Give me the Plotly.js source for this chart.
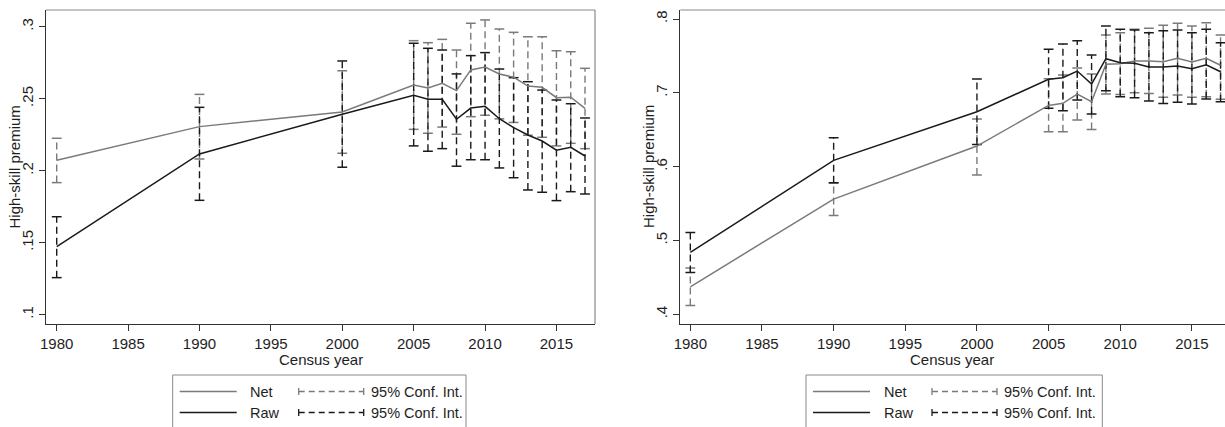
<!DOCTYPE html>
<html>
<head>
<meta charset="utf-8">
<script src="https://cdn.plot.ly/plotly-3.0.1.min.js"></script>
<style>html,body{margin:0;padding:0;background:#fff;}#chart{width:1225px;height:427px;}</style>
</head>
<body>
<div id="chart"></div>
<script>
// ---- Data ----
const years = [1980,1990,2000,2005,2006,2007,2008,2009,2010,2011,2012,2013,2014,2015,2016,2017];

// Left panel
const netLeft    = [0.2072,0.2306,0.2408,0.2595,0.2574,0.2607,0.2556,0.2700,0.2720,0.2672,0.2649,0.2588,0.2579,0.2507,0.2510,0.2433];
const netLeftHi  = [0.2225,0.2530,0.2694,0.2903,0.2889,0.2912,0.2838,0.3024,0.3047,0.2984,0.2961,0.2930,0.2930,0.2833,0.2826,0.2711];
const netLeftLo  = [0.1917,0.2081,0.2121,0.2287,0.2260,0.2303,0.2253,0.2375,0.2385,0.2360,0.2335,0.2246,0.2232,0.2172,0.2190,0.2153];
const rawLeft    = [0.1472,0.2116,0.2392,0.2524,0.2496,0.2496,0.2357,0.2435,0.2447,0.2361,0.2299,0.2248,0.2206,0.2142,0.2162,0.2102];
const rawLeftHi  = [0.1680,0.2440,0.2762,0.2885,0.2850,0.2838,0.2672,0.2799,0.2820,0.2706,0.2646,0.2618,0.2560,0.2491,0.2465,0.2366];
const rawLeftLo  = [0.1257,0.1794,0.2024,0.2172,0.2135,0.2153,0.2031,0.2076,0.2076,0.2019,0.1951,0.1866,0.1850,0.1792,0.1854,0.1838];

// Right panel
const netRight   = [0.4373,0.5561,0.6279,0.6830,0.6858,0.6984,0.6880,0.7386,0.7395,0.7431,0.7431,0.7420,0.7467,0.7417,0.7467,0.7373];
const netRightHi = [0.4626,0.5780,0.6645,0.7190,0.7243,0.7337,0.7255,0.7783,0.7814,0.7860,0.7874,0.7914,0.7941,0.7905,0.7950,0.7783];
const netRightLo = [0.4120,0.5340,0.5886,0.6473,0.6473,0.6631,0.6505,0.6984,0.6976,0.7000,0.6990,0.6940,0.6970,0.6940,0.6947,0.6912];
const rawRight   = [0.4839,0.6085,0.6744,0.7183,0.7205,0.7295,0.7119,0.7462,0.7408,0.7400,0.7350,0.7350,0.7363,0.7327,0.7381,0.7286];
const rawRightHi = [0.5110,0.6392,0.7187,0.7590,0.7661,0.7706,0.7512,0.7905,0.7860,0.7850,0.7814,0.7842,0.7850,0.7814,0.7860,0.7680];
const rawRightLo = [0.4568,0.5782,0.6300,0.6790,0.6758,0.6902,0.6713,0.7028,0.6947,0.6935,0.6889,0.6857,0.6871,0.6848,0.6916,0.6880];

const xTicks = [1980,1985,1990,1995,2000,2005,2010,2015];
const yTicksLeft = [0.1,0.15,0.2,0.25,0.3];
const yTickTextLeft = ['.1','.15','.2','.25','.3'];
const yTicksRight = [0.4,0.5,0.6,0.7,0.8];
const yTickTextRight = ['.4','.5','.6','.7','.8'];
const seriesNames = ['Net','Raw'];
const ciLabel = '95% Conf. Int.';
const xTitle = 'Census year';
const yTitle = 'High-skill premium';

// ---- Styling ----
const W = 1225, H = 427;
const NET_C = '#7a7a7a', RAW_C = '#1a1a1a', TXT = '#1e1e1e', FRAME = '#8a8a8a', AX = '#333333';
const FONT = 'Liberation Sans, Arial, sans-serif';
const px = x => x / W, py = y => 1 - y / H;

function ciTrace(xs, lo, hi, color, xa, ya) {
  const x = [], y = [];
  xs.forEach((v, i) => { x.push(v, v, null); y.push(lo[i], hi[i], null); });
  return {x, y, mode: 'lines', line: {color, width: 1.4, dash: '7px,4px'}, xaxis: xa, yaxis: ya, hoverinfo: 'skip', showlegend: false};
}
function capTrace(xs, lo, hi, color, xa, ya) {
  return {x: xs.concat(xs), y: lo.concat(hi), mode: 'markers',
    marker: {symbol: 'line-ew', size: 7, color, line: {color, width: 1.5}},
    xaxis: xa, yaxis: ya, hoverinfo: 'skip', showlegend: false};
}
function lineTrace(xs, ys, color, name, xa, ya) {
  return {x: xs, y: ys, mode: 'lines', name, line: {color, width: 1.5}, xaxis: xa, yaxis: ya, showlegend: false};
}

const data = [
  ciTrace(years, netLeftLo, netLeftHi, NET_C, 'x', 'y'),
  capTrace(years, netLeftLo, netLeftHi, NET_C, 'x', 'y'),
  ciTrace(years, rawLeftLo, rawLeftHi, RAW_C, 'x', 'y'),
  capTrace(years, rawLeftLo, rawLeftHi, RAW_C, 'x', 'y'),
  lineTrace(years, netLeft, NET_C, seriesNames[0], 'x', 'y'),
  lineTrace(years, rawLeft, RAW_C, seriesNames[1], 'x', 'y'),
  ciTrace(years, netRightLo, netRightHi, NET_C, 'x2', 'y2'),
  capTrace(years, netRightLo, netRightHi, NET_C, 'x2', 'y2'),
  ciTrace(years, rawRightLo, rawRightHi, RAW_C, 'x2', 'y2'),
  capTrace(years, rawRightLo, rawRightHi, RAW_C, 'x2', 'y2'),
  lineTrace(years, netRight, NET_C, seriesNames[0], 'x2', 'y2'),
  lineTrace(years, rawRight, RAW_C, seriesNames[1], 'x2', 'y2')
];

const yDom = [py(324), py(10)];
const xAxisBase = {
  tickvals: xTicks, ticks: 'outside', ticklen: 6, tickwidth: 1, tickcolor: AX,
  showline: true, linecolor: AX, linewidth: 1, showgrid: false, zeroline: false,
  tickfont: {family: FONT, size: 15, color: TXT}, anchor: 'free'
};
const yAxisBase = {
  ticks: 'outside', ticklen: 6, tickwidth: 1, tickcolor: AX, tickangle: -90,
  showline: true, linecolor: AX, linewidth: 1, showgrid: false, zeroline: false,
  tickfont: {family: FONT, size: 15, color: TXT}, domain: yDom
};

const layout = {
  width: W, height: H, margin: {l: 0, r: 0, t: 0, b: 0},
  paper_bgcolor: '#fff', plot_bgcolor: '#fff', showlegend: false,
  font: {family: FONT, color: TXT},
  xaxis: Object.assign({}, xAxisBase, {domain: [px(46), px(595)], range: [1979.25, 2017.7], anchor: 'y'}),
  yaxis: Object.assign({}, yAxisBase, {range: [0.0935, 0.3116], tickvals: yTicksLeft, ticktext: yTickTextLeft, anchor: 'x'}),
  xaxis2: Object.assign({}, xAxisBase, {domain: [px(680.3), 1], range: [1979.3, 2017.31], anchor: 'y2'}),
  yaxis2: Object.assign({}, yAxisBase, {range: [0.3869, 0.8122], tickvals: yTicksRight, ticktext: yTickTextRight, anchor: 'x2'}),
  shapes: [], annotations: []
};

// frame lines (top/right)
const sh = layout.shapes, an = layout.annotations;
function seg(x0, y0, x1, y1, color, width, dash) {
  sh.push({type: 'line', xref: 'paper', yref: 'paper', x0: px(x0), y0: py(y0), x1: px(x1), y1: py(y1),
    line: {color, width, dash: dash || 'solid'}, layer: 'above'});
}
seg(46, 10, 595, 10, FRAME, 1.2);
seg(595, 10, 595, 324, FRAME, 1.2);
seg(680.3, 10, 1225, 10, FRAME, 1.2);

// axis titles
function txt(x, y, text, opts) {
  an.push(Object.assign({xref: 'paper', yref: 'paper', x: px(x), y: py(y), text, showarrow: false,
    font: {family: FONT, size: 15, color: TXT}, xanchor: 'center', yanchor: 'middle'}, opts || {}));
}
txt(321, 359, xTitle);
txt(952, 359, xTitle);
txt(13.5, 167, yTitle, {textangle: -90});
txt(648, 167, yTitle, {textangle: -90});

// legends
function legend(bx0, bx1) {
  const off = bx0;
  sh.push({type: 'rect', xref: 'paper', yref: 'paper', x0: px(bx0), x1: px(bx1), y0: py(375), y1: py(440),
    line: {color: FRAME, width: 1}, fillcolor: 'rgba(0,0,0,0)'});
  const rows = [{y: 391.5, c: NET_C, name: seriesNames[0]}, {y: 412.5, c: RAW_C, name: seriesNames[1]}];
  rows.forEach(r => {
    seg(off + 7, r.y, off + 64, r.y, r.c, 1.5);
    txt(off + 75.5, r.y, r.name, {xanchor: 'left', font: {family: FONT, size: 14.5, color: TXT}});
    seg(off + 126, r.y, off + 191, r.y, r.c, 1.3, '6px,4px');
    seg(off + 126, r.y - 3.5, off + 126, r.y + 3.5, r.c, 1.3);
    seg(off + 191, r.y - 3.5, off + 191, r.y + 3.5, r.c, 1.3);
    txt(off + 196, r.y, ciLabel, {xanchor: 'left', font: {family: FONT, size: 14.5, color: TXT}});
  });
}
legend(172.7, 466);
legend(806, 1102.3);

Plotly.newPlot('chart', data, layout, {staticPlot: true, displayModeBar: false});
</script>
</body>
</html>
